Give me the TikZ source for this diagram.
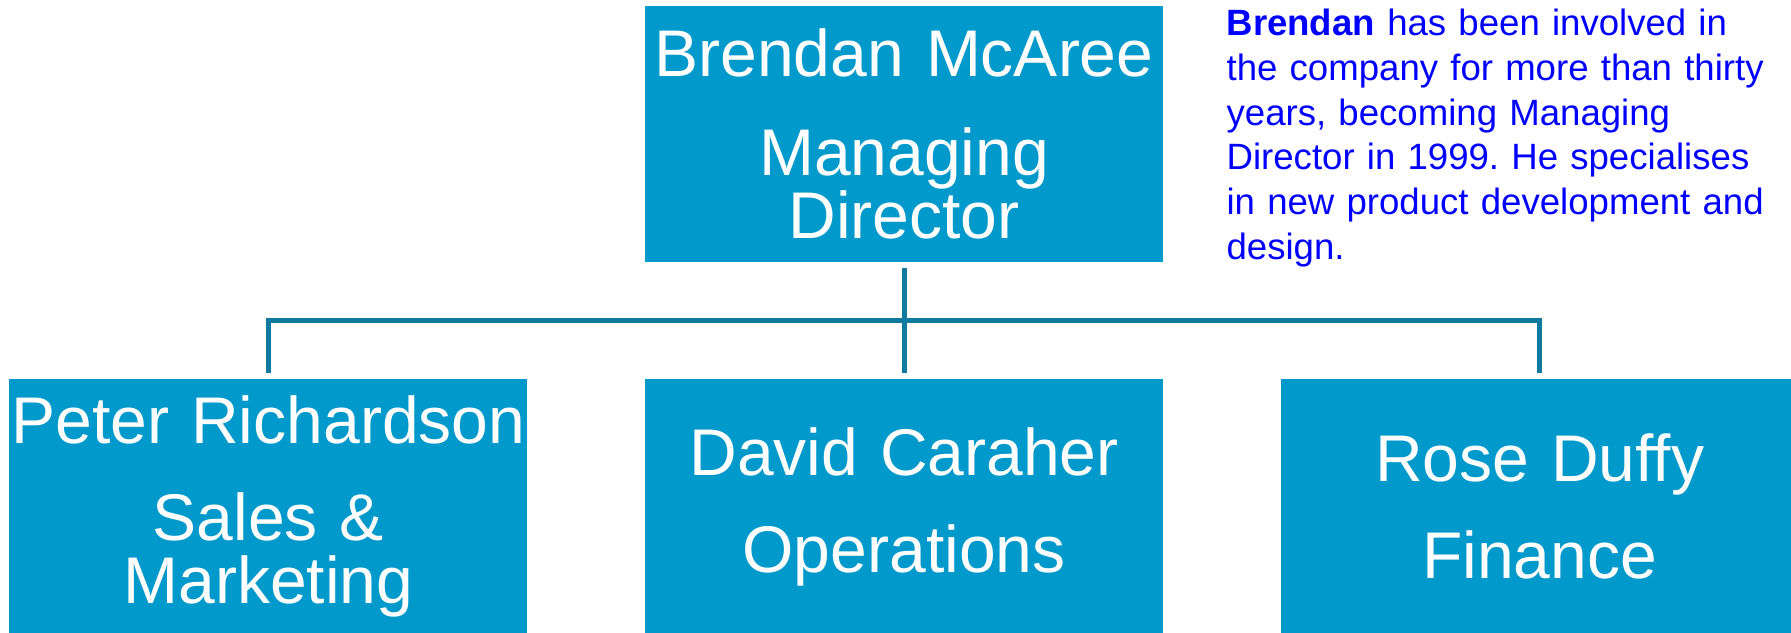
\documentclass[tikz,border=0pt]{standalone}
\usepackage{fontspec}
\setmainfont{Liberation Sans}
\usepackage{tikz}
\usetikzlibrary{positioning}

\definecolor{boxblue}{RGB}{0,153,204}
\definecolor{linkteal}{RGB}{16,121,158}
\definecolor{notecolor}{RGB}{0,0,255}

\begin{document}
\begin{tikzpicture}[x=0.5pt,y=-0.5pt,node distance=57.5pt and 58pt,
                    thick,
                    box/.style={rectangle,fill=boxblue,text=white,inner sep=0pt,
                      text width=259pt,minimum height=128pt,align=center,
                      font=\fontsize{33}{31.5}\selectfont},
                    link/.style={draw=linkteal,line width=2.5pt,
                      shorten >=2.5pt,shorten <=2.5pt}]

  \useasboundingbox (0,0) rectangle (1791,632);

  \node[box] (MD) at (904,134) {Brendan McAree\\[18pt]Managing\\Director};
  \node[box] (OPS) [below=of MD] {David Caraher\\[17pt]Operations};
  \node[box] (SM) [left=of OPS] {Peter Richardson\\[17pt]Sales \&\\Marketing};
  \node[box] (FIN) [right=of OPS] {Rose Duffy\\[17pt]Finance};

  % note beside the managing director
  \node[inner sep=0pt,text width=285pt,align=left,text=notecolor,
        font=\fontsize{18.3}{22.4}\selectfont\frenchspacing,
        right=31pt of MD.north east,anchor=north west,yshift=-1.5pt] (note)
    {\textbf{Brendan} has been involved in\\
     the company for more than thirty\\
     years, becoming Managing\\
     Director in 1999. He specialises\\
     in new product development and\\
     design.};

  \coordinate (J) at (904,320);

  \path[link]
    (MD) edge (OPS);
  \draw[link] (SM) |- (J) -| (FIN);
\end{tikzpicture}
\end{document}
